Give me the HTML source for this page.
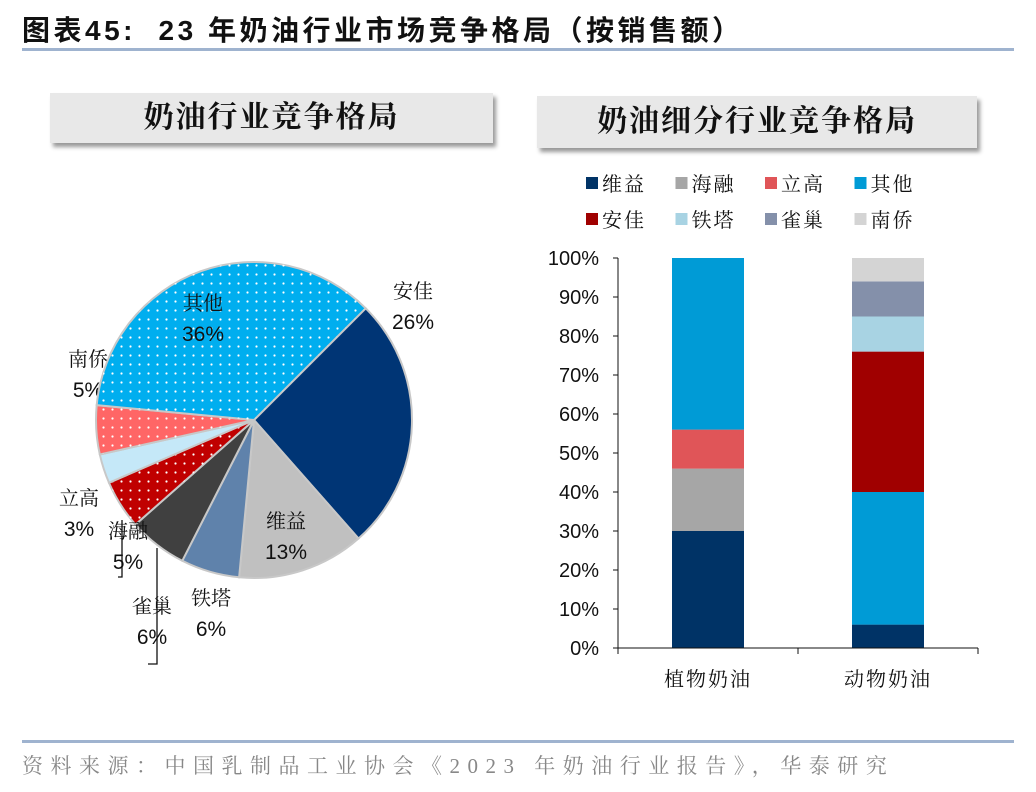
<!DOCTYPE html>
<html><head><meta charset="utf-8"><style>
body{margin:0;width:1036px;height:792px;background:#fff;position:relative;overflow:hidden;font-family:"Liberation Sans","Noto Sans CJK SC",sans-serif}
.title{position:absolute;left:22px;top:9px;font-size:28px;font-weight:bold;color:#111;font-family:"Liberation Sans","Noto Sans CJK SC",sans-serif;letter-spacing:3.5px;white-space:nowrap}
.rule{position:absolute;left:22px;width:992px;height:3px;background:#9fb3cf}
.box{position:absolute;background:#e8e8e8;box-shadow:3px 4px 4px #999;font-family:"Liberation Serif","Noto Serif CJK SC",serif;font-size:30px;font-weight:bold;color:#111;text-align:center;letter-spacing:2px}
.foot{position:absolute;left:22px;top:750px;font-size:21px;color:#888;font-family:"Liberation Serif","Noto Serif CJK SC",serif;letter-spacing:7.5px;white-space:nowrap}
svg text{font-family:"Liberation Sans","Noto Serif CJK SC",sans-serif}
</style></head><body>
<div class="title">图表45:&nbsp; 23 年奶油行业市场竞争格局（按销售额）</div>
<div class="rule" style="top:48px"></div>
<div class="box" style="left:50px;top:93px;width:443px;height:50px;line-height:50px">奶油行业竞争格局</div>
<div class="box" style="left:537px;top:96px;width:440px;height:52px;line-height:52px">奶油细分行业竞争格局</div>
<svg id="chart" width="1036" height="792" style="position:absolute;left:0;top:0">
<defs>
<pattern id="dots" width="9" height="9" patternUnits="userSpaceOnUse"><circle cx="4.5" cy="4.5" r="1.1" fill="#fff"/></pattern>
</defs>
<g id="pie"></g><g id="bars"></g>
</svg>
<div class="rule" style="top:740px"></div>
<div class="foot">资料来源：中国乳制品工业协会《2023 年奶油行业报告》，华泰研究</div>
<script>
const pieLabels=['安佳','维益','铁塔','雀巢','海融','立高','南侨','其他'];
const pieValues=[26,13,6,6,5,3,5,36];
const pieColors=['#003575','#c0c0c0','#5f82ab','#404040','#c00000','#c5e8f8','#ff6666','#00aeef'];
const pieDotted=[false,false,false,false,true,false,true,true];
const barCats=['植物奶油','动物奶油'];
const barSeries=['维益','海融','立高','其他','安佳','铁塔','雀巢','南侨'];
const barColors=['#003366','#a6a6a6','#e05558','#009bd6','#a00000','#a8d3e3','#8490aa','#d4d4d4'];
const barPlant=[30,16,10,44,0,0,0,0];
const barAnimal=[6,0,0,34,36,9,9,6];
const yTicks=[0,10,20,30,40,50,60,70,80,90,100];
const NS='http://www.w3.org/2000/svg';
function mk(t,a,p){const e=document.createElementNS(NS,t);for(const k in a)e.setAttribute(k,a[k]);p.appendChild(e);return e;}
const pie=document.getElementById('pie');
const cx=254,cy=420,r=158;
const total=pieValues.reduce((a,b)=>a+b,0);
let ang=-45;
const labelPos=[[413,298],[286,528],[211,605],[152,613],[128,538],[79,505],[88,366],[203,310]];
pieValues.forEach((v,i)=>{
  const a0=ang*Math.PI/180,a1=(ang+v/total*360)*Math.PI/180;
  const large=v/total>0.5?1:0;
  const d=`M${cx},${cy} L${cx+r*Math.cos(a0)},${cy+r*Math.sin(a0)} A${r},${r} 0 ${large} 1 ${cx+r*Math.cos(a1)},${cy+r*Math.sin(a1)} Z`;
  const s=mk('path',{d:d,fill:pieColors[i],stroke:'#c8c8c8','stroke-width':2},pie);
  
  
  if(pieDotted[i]){mk('path',{d:d,fill:'url(#dots)'},pie);}
  const [lx,ly]=labelPos[i];
  const t1=mk('text',{x:lx,y:ly,'text-anchor':'middle','font-size':20,fill:'#111'},pie);t1.textContent=pieLabels[i];
  
  
  const t2=mk('text',{x:lx,y:ly+31,'text-anchor':'middle','font-size':21,fill:'#111'},pie);t2.textContent=v+'%';
  ang+=v/total*360;
});
mk('polyline',{points:'118,577 122,577 122,520',fill:'none',stroke:'#111','stroke-width':1.3},pie);
mk('polyline',{points:'148,664 157,664 157,548',fill:'none',stroke:'#111','stroke-width':1.3},pie);
const g=document.getElementById('bars');
const x0=618,x1=978,y0=648,y100=258;
const ys=v=>y0-(y0-y100)*v/100;
const catW=(x1-x0)/barCats.length,bw=72;
yTicks.forEach(t=>{
  mk('line',{x1:x0-5,x2:x0,y1:ys(t),y2:ys(t),stroke:'#111'},g);
  const tx=mk('text',{x:x0-19,y:ys(t)+7,'text-anchor':'end','font-size':20,fill:'#111'},g);tx.textContent=t+'%';
});
[barPlant,barAnimal].forEach((vals,ci)=>{
  const bx=x0+catW*ci+(catW-bw)/2;let acc=0;
  vals.forEach((v,si)=>{if(!v)return;
    const b=mk('rect',{x:bx,y:ys(acc+v),width:bw,height:ys(acc)-ys(acc+v),fill:barColors[si]},g);
    
    
    acc+=v;});
  const cl=mk('text',{x:x0+catW*(ci+0.5),y:y0+38,'text-anchor':'middle','font-size':20,fill:'#111','letter-spacing':2},g);cl.textContent=barCats[ci];
  
  
});
mk('line',{x1:x0,x2:x0,y1:y100,y2:y0,stroke:'#111'},g);
mk('line',{x1:x0,x2:x1,y1:y0,y2:y0,stroke:'#111'},g);
for(let i=0;i<=barCats.length;i++)mk('line',{x1:x0+catW*i,x2:x0+catW*i,y1:y0,y2:y0+6,stroke:'#111'},g);
barSeries.forEach((s,i)=>{
  const lx=592+(i%4)*89.5,ly=183+Math.floor(i/4)*36;
  const sq=mk('rect',{x:lx-6,y:ly-6,width:12,height:12,fill:barColors[i]},g);
  
  
  const t=mk('text',{x:lx+10,y:ly+8,'font-size':20,fill:'#111','letter-spacing':2},g);t.textContent=s;
});
</script>
</body></html>
